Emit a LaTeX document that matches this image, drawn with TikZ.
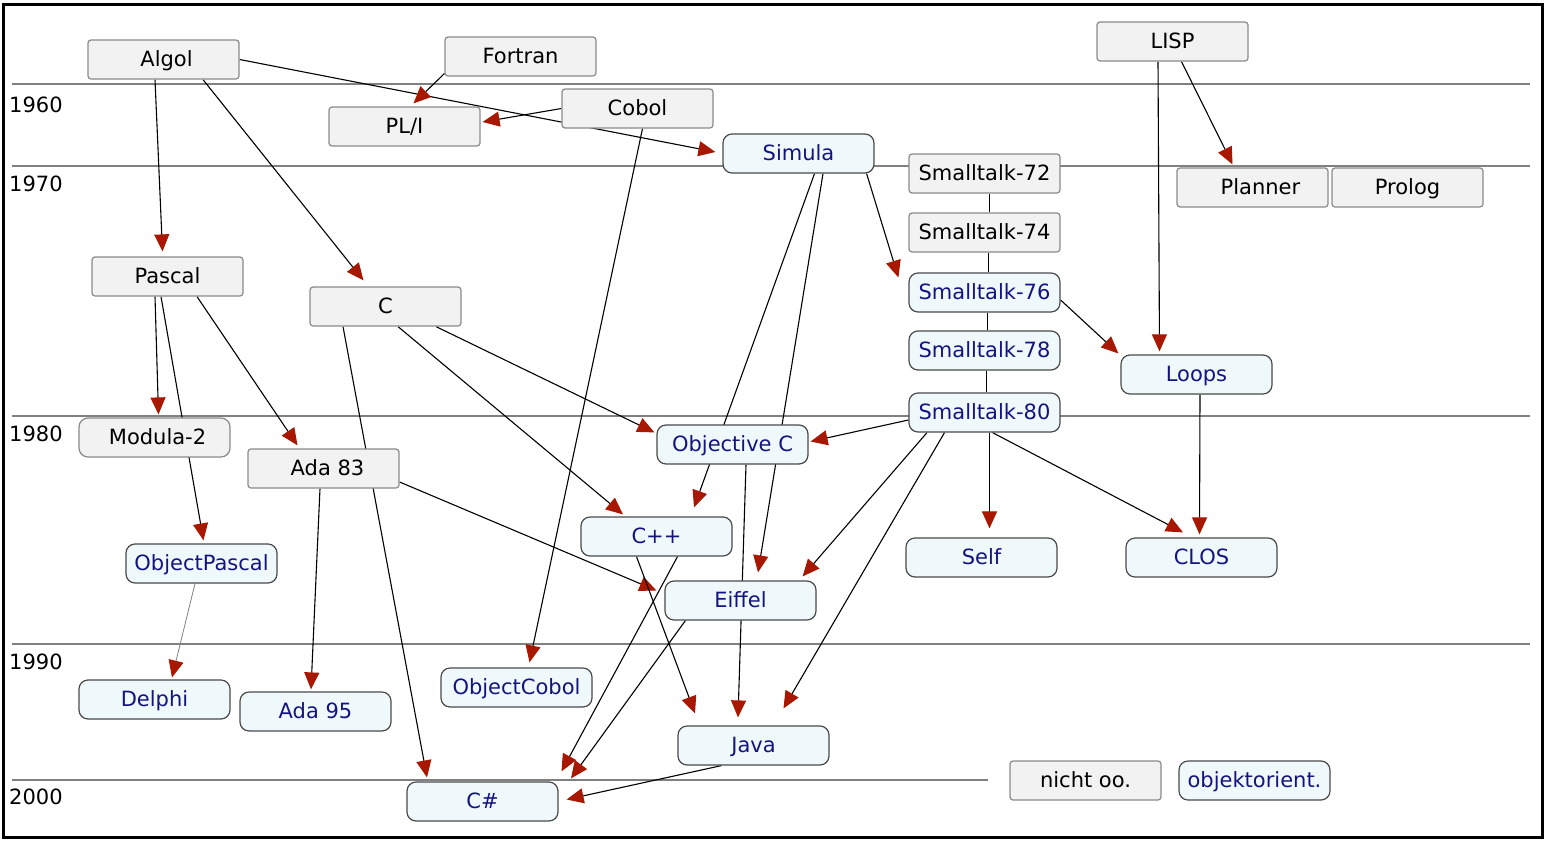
\documentclass[tikz,border=0pt]{standalone}
\usepackage{fontspec}
\setmainfont{DejaVu Sans}
\usetikzlibrary{arrows.meta}
\definecolor{gfill}{HTML}{F2F2F2}
\definecolor{gline}{HTML}{8A8A8A}
\definecolor{bfill}{HTML}{EFF9FB}
\definecolor{bline}{HTML}{4A4A4A}
\definecolor{btext}{HTML}{141480}
\definecolor{ared}{HTML}{A81800}
\definecolor{yline}{HTML}{808080}
\pgfdeclarelayer{bg}
\pgfsetlayers{bg,main}
\tikzset{
  lang/.style={rectangle, line width=1.2pt, minimum width=151pt, minimum height=39pt,
    inner sep=0pt, text height=16pt, text depth=3pt, font=\fontsize{21}{25}\selectfont},
  gbox/.style={lang, rounded corners=3pt, draw=gline, fill=gfill, text=black},
  obox/.style={lang, rounded corners=9pt, draw=bline, fill=bfill, text=btext},
  yearlbl/.style={anchor=west, inner sep=0pt, font=\fontsize{21}{25}\selectfont},
  yearline/.style={draw=yline, line width=2.6pt},
  arr/.style={line width=1.1pt, -{Triangle[length=17pt,width=15pt,color=ared]}},
  thinarr/.style={draw=gray, line width=0.8pt, -{Triangle[length=17pt,width=15pt,color=ared]}},
  plain/.style={line width=1.1pt}
}
\begin{document}
\begin{tikzpicture}[x=1pt,y=-1pt]
\useasboundingbox (0,0) rectangle (1545,841);
% nodes
\node[gbox] (algol) at (163.5,59.5) {\hspace*{6pt}Algol};
\node[gbox] (fortran) at (520.5,56.5) {Fortran};
\node[gbox] (lisp) at (1172.5,41.5) {LISP};
\node[gbox] (pli) at (404.5,126.5) {PL/I};
\node[gbox] (cobol) at (637.5,108.5) {Cobol};
\node[obox] (simula) at (798.5,153.5) {Simula};
\node[gbox] (st72) at (984.5,173.5) {Smalltalk-72};
\node[gbox] (planner) at (1252.5,187.5) {\hspace*{16pt}Planner};
\node[gbox] (prolog) at (1407.5,187.5) {Prolog};
\node[gbox] (st74) at (984.5,232.5) {Smalltalk-74};
\node[gbox] (pascal) at (167.5,276.5) {Pascal};
\node[gbox] (c) at (385.5,306.5) {C};
\node[obox] (st76) at (984.5,292.5) {Smalltalk-76};
\node[obox] (st78) at (984.5,350.5) {Smalltalk-78};
\node[obox] (loops) at (1196.5,374.5) {Loops};
\node[gbox, rounded corners=9pt] (modula) at (154.5,437.5) {\hspace*{6pt}Modula-2};
\node[obox] (st80) at (984.5,412.5) {Smalltalk-80};
\node[obox] (objc) at (732.5,444.5) {Objective C};
\node[gbox] (ada83) at (323.5,468.5) {\hspace*{8pt}Ada 83};
\node[obox] (cpp) at (656.5,536.5) {C++};
\node[obox] (objpascal) at (201.5,563.5) {ObjectPascal};
\node[obox] (self) at (981.5,557.5) {Self};
\node[obox] (clos) at (1201.5,557.5) {CLOS};
\node[obox] (eiffel) at (740.5,600.5) {Eiffel};
\node[obox] (delphi) at (154.5,699.5) {Delphi};
\node[obox] (ada95) at (315.5,711.5) {Ada 95};
\node[obox] (objcobol) at (516.5,687.5) {ObjectCobol};
\node[obox] (java) at (753.5,745.5) {Java};
\node[obox] (csharp) at (482.5,801.5) {C\#};
\node[gbox] (nichtoo) at (1085.5,780.5) {nicht oo.};
\node[obox] (oo) at (1254.5,780.5) {objektorient.};
% year labels
\node[yearlbl] (y1960) at (9,104.5) {1960};
\node[yearlbl] (y1970) at (9,183.5) {1970};
\node[yearlbl] (y1980) at (9,434) {1980};
\node[yearlbl] (y1990) at (9,662) {1990};
\node[yearlbl] (y2000) at (9,796.5) {2000};
\begin{pgfonlayer}{bg}
% year lines
\coordinate (l60a) at (12,84); \coordinate (l60b) at (1530,84);
\coordinate (l70a) at (12,166); \coordinate (l70b) at (1530,166);
\coordinate (l80a) at (12,416); \coordinate (l80b) at (1530,416);
\coordinate (l90a) at (12,644); \coordinate (l90b) at (1530,644);
\coordinate (l00a) at (12,780); \coordinate (l00b) at (988,780);
\draw[yearline] (l60a) -- (l60b);
\draw[yearline] (l70a) -- (l70b);
\draw[yearline] (l80a) -- (l80b);
\draw[yearline] (l90a) -- (l90b);
\draw[yearline] (l00a) -- (l00b);
% smalltalk chain
\draw[plain] ([xshift=5]st72.south) -- ([xshift=5]st74.north);
\draw[plain] ([xshift=4]st74.south) -- ([xshift=4]st76.north);
\draw[plain] ([xshift=3]st76.south) -- ([xshift=3]st78.north);
\draw[plain] ([xshift=2]st78.south) -- ([xshift=2]st80.north);
% arrows
\draw[arr] ([xshift=-8.5]algol.south) -- ([xshift=-5,yshift=5]pascal.north);
\draw[arr] ([xshift=39.5]algol.south) -- ([xshift=-22,yshift=6]c.north);
\draw[arr] (algol.east) -- ([xshift=-7,yshift=1.5]simula.west);
\draw[arr] ([yshift=3]fortran.south west) -- ([xshift=9,yshift=3]pli.north);
\draw[arr] (cobol.west) -- ([xshift=2,yshift=4.5]pli.east);
\draw[arr] ([xshift=5]cobol.south) -- ([xshift=13,yshift=5]objcobol.north);
\draw[arr] ([xshift=9]lisp.south) -- ([xshift=-20,yshift=3]planner.north);
\draw[arr] ([xshift=-14.5]lisp.south) -- ([xshift=-37,yshift=3]loops.north);
\draw[arr] ([xshift=-8]simula.south east) -- ([xshift=-10,yshift=15]st76.west);
\draw[arr] ([xshift=16]simula.south) -- ([xshift=37.5,yshift=9]cpp.north);
\draw[arr] ([xshift=24.5]simula.south) -- ([xshift=17.5,yshift=8]eiffel.north);
\draw[arr] ([yshift=-7.5]st76.east) -- ([xshift=-2,yshift=1]loops.north west);
\draw[arr] ([xshift=-12.5]pascal.south) -- ([xshift=4,yshift=3]modula.north);
\draw[arr] ([xshift=-6.5]pascal.south) -- ([xshift=2,yshift=3]objpascal.north);
\draw[arr] ([xshift=29.5]pascal.south) -- ([xshift=-26,yshift=3]ada83.north);
\draw[arr] ([xshift=50.5]c.south) -- ([xshift=-2,yshift=-8]objc.north west);
\draw[arr] ([xshift=12.5]c.south) -- ([xshift=-33.5,yshift=2]cpp.north);
\draw[arr] ([xshift=-42.5]c.south) -- ([xshift=-55.5,yshift=4]csharp.north);
\draw[arr] ([yshift=-13.5]ada83.east) -- ([xshift=-8,yshift=10]eiffel.west);
\draw[arr] ([xshift=-3.5]ada83.south) -- ([xshift=-4.5,yshift=2]ada95.north);
\draw[thinarr] ([xshift=-6.5]objpascal.south) -- ([xshift=17.5,yshift=2]delphi.north);
\draw[arr] ([xshift=13.5]objc.south) -- ([xshift=-15.5,yshift=8]java.north);
\draw[arr] ([yshift=-7.5]st80.west) -- ([xshift=2,yshift=3]objc.east);
\draw[arr] ([xshift=-57.5]st80.south) -- ([xshift=-14,yshift=4]eiffel.north east);
\draw[arr] ([xshift=-40]st80.south) -- ([xshift=30,yshift=17]java.north);
\draw[arr] ([xshift=5]st80.south) -- ([xshift=8,yshift=9]self.north);
\draw[arr] ([xshift=8]st80.south) -- ([xshift=-18.5,yshift=5]clos.north);
\draw[arr] ([xshift=3.5]loops.south) -- ([xshift=-2,yshift=3]clos.north);
\draw[arr] ([xshift=-20]cpp.south) -- ([xshift=-58.5,yshift=12]java.north);
\draw[arr] ([xshift=21]cpp.south) -- ([xshift=79,yshift=10]csharp.north);
\draw[arr] ([xshift=21]eiffel.south west) -- ([xshift=88.5,yshift=3]csharp.north);
\draw[arr] ([xshift=-32]java.south) -- ([xshift=8,yshift=2]csharp.east);
\end{pgfonlayer}
% frame
\coordinate (fa) at (3,4); \coordinate (fb) at (1542,837);
\draw[line width=3pt] (fa) rectangle (fb);
\end{tikzpicture}
\end{document}
